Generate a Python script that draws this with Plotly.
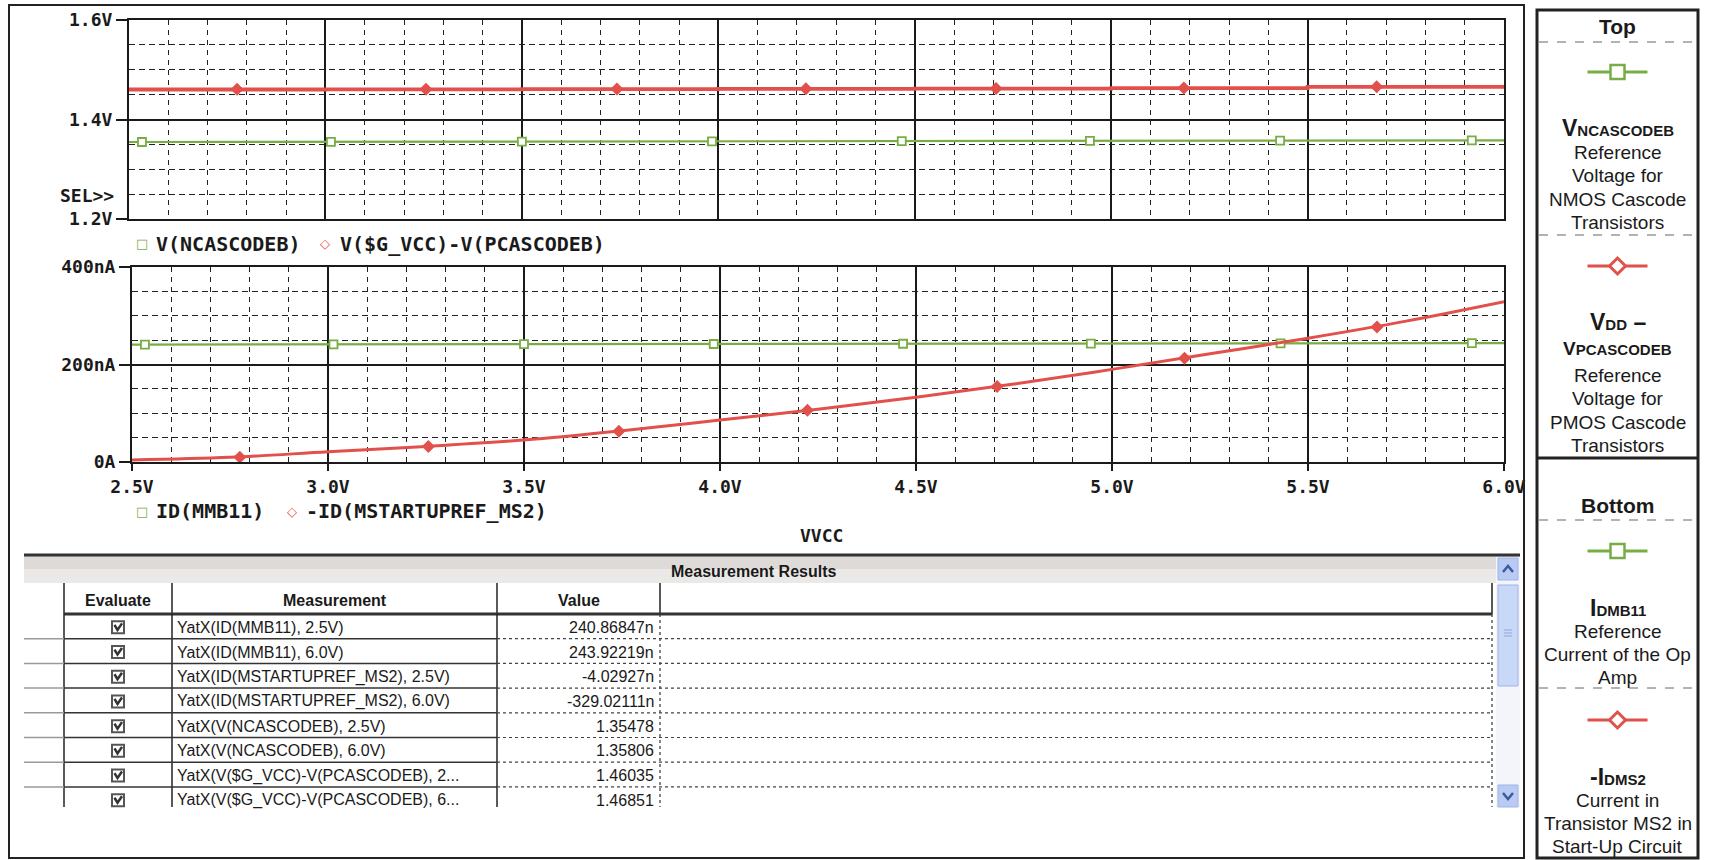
import plotly.graph_objects as go

W, H = 1712, 860

# ---------------- data ----------------
vcc = [2.5, 3.0, 3.5, 4.0, 4.5, 5.0, 5.5, 6.0]
v_ncascodeb = [1.35478, 1.3552, 1.3557, 1.3561, 1.3566, 1.3571, 1.3576, 1.35806]
v_vcc_minus_pcascodeb = [1.46035, 1.4607, 1.4611, 1.4616, 1.4622, 1.4630, 1.4655, 1.46851]
id_mmb11_nA = [240.87, 241.3, 241.7, 242.1, 242.6, 243.0, 243.5, 243.92]

vcc_fine = [2.5, 2.75, 3.0, 3.25, 3.5, 3.75, 4.0, 4.25, 4.5, 4.75, 5.0, 5.25, 5.5, 5.75, 6.0]
neg_id_ms2_nA = [4.03, 9.5, 21, 32, 45, 64, 86, 108, 133, 160, 190, 222, 254, 289, 329.02]

green_marker_vcc = [2.533, 3.014, 3.500, 3.984, 4.467, 4.946, 5.430, 5.918]
red_marker_vcc = [2.775, 3.256, 3.742, 4.223, 4.707, 5.185, 5.676]
v_ncascodeb_marks = [1.3548, 1.3552, 1.3557, 1.3561, 1.3566, 1.3571, 1.3576, 1.3580]
v_pcasc_marks = [1.4606, 1.4610, 1.4614, 1.4619, 1.4624, 1.4635, 1.4660]
id_mmb11_marks = [240.9, 241.3, 241.7, 242.1, 242.6, 243.0, 243.5, 243.9]
neg_id_ms2_marks = [10, 32, 63, 106, 155, 213, 277]

x_ticks = [2.5, 3.0, 3.5, 4.0, 4.5, 5.0, 5.5, 6.0]
x_tick_text = ["2.5V", "3.0V", "3.5V", "4.0V", "4.5V", "5.0V", "5.5V", "6.0V"]
top_y_ticks = [1.2, 1.4, 1.6]
top_y_text = ["1.2V", "1.4V", "1.6V"]
bot_y_ticks = [0, 200, 400]
bot_y_text = ["0A", "200nA", "400nA"]

top_legend = ["V(NCASCODEB)", "V($G_VCC)-V(PCASCODEB)"]
bot_legend = ["ID(MMB11)", "-ID(MSTARTUPREF_MS2)"]
x_title = "VVCC"

table_title = "Measurement Results"
table_headers = ["Evaluate", "Measurement", "Value"]
measurements = [
    "YatX(ID(MMB11), 2.5V)",
    "YatX(ID(MMB11), 6.0V)",
    "YatX(ID(MSTARTUPREF_MS2), 2.5V)",
    "YatX(ID(MSTARTUPREF_MS2), 6.0V)",
    "YatX(V(NCASCODEB), 2.5V)",
    "YatX(V(NCASCODEB), 6.0V)",
    "YatX(V($G_VCC)-V(PCASCODEB), 2...",
    "YatX(V($G_VCC)-V(PCASCODEB), 6...",
]
values = ["240.86847n", "243.92219n", "-4.02927n", "-329.02111n",
          "1.35478", "1.35806", "1.46035", "1.46851"]

panel_top_title = "Top"
panel_bottom_title = "Bottom"
panel_entries = [
    ("<b>V<span style='font-size:15px'>NCASCODEB</span></b>",
     ["Reference", "Voltage for", "NMOS Cascode", "Transistors"]),
    ("<b>V<span style='font-size:15px'>DD</span> –</b>",
     ["<b>V<span style='font-size:15px'>PCASCODEB</span></b>", "Reference", "Voltage for", "PMOS Cascode", "Transistors"]),
    ("<b>I<span style='font-size:15px'>DMB11</span></b>",
     ["Reference", "Current of the Op", "Amp"]),
    ("<b>-I<span style='font-size:15px'>DMS2</span></b>",
     ["Current in", "Transistor MS2 in", "Start-Up Circuit"]),
]

GREEN = "#78ad45"
RED = "#e2504b"
INK = "#1a1a1a"
MONO = "DejaVu Sans Mono"
NARROW = "Liberation Sans Narrow, Arial Narrow, Liberation Sans, Arial"


def px(x):
    return x / W


def py(y):
    return 1 - y / H


fig = go.Figure()

fig.add_trace(go.Scatter(x=vcc, y=v_ncascodeb, mode="lines",
                         line=dict(color=GREEN, width=2.2), xaxis="x", yaxis="y"))
fig.add_trace(go.Scatter(x=green_marker_vcc, y=v_ncascodeb_marks, mode="markers",
                         marker=dict(symbol="square", size=8, color="white",
                                     line=dict(color=GREEN, width=1.8)), xaxis="x", yaxis="y"))
fig.add_trace(go.Scatter(x=vcc, y=v_vcc_minus_pcascodeb, mode="lines", line_shape="hv",
                         line=dict(color=RED, width=3.8), xaxis="x", yaxis="y"))
fig.add_trace(go.Scatter(x=red_marker_vcc, y=v_pcasc_marks, mode="markers",
                         marker=dict(symbol="diamond", size=10, color=RED), xaxis="x", yaxis="y"))

fig.add_trace(go.Scatter(x=vcc, y=id_mmb11_nA, mode="lines",
                         line=dict(color=GREEN, width=2.2), xaxis="x2", yaxis="y2"))
fig.add_trace(go.Scatter(x=green_marker_vcc, y=id_mmb11_marks, mode="markers",
                         marker=dict(symbol="square", size=8, color="white",
                                     line=dict(color=GREEN, width=1.8)), xaxis="x2", yaxis="y2"))
fig.add_trace(go.Scatter(x=vcc_fine, y=neg_id_ms2_nA, mode="lines", line_shape="spline",
                         line=dict(color=RED, width=3), xaxis="x2", yaxis="y2"))
fig.add_trace(go.Scatter(x=red_marker_vcc, y=neg_id_ms2_marks, mode="markers",
                         marker=dict(symbol="diamond", size=10, color=RED), xaxis="x2", yaxis="y2"))

tickfont = dict(family=MONO, size=18, color=INK, weight="bold")


def xaxis_cfg(domain, anchor, labels):
    return dict(domain=domain, anchor=anchor, range=[2.5, 6.0], automargin=False,
                tickvals=x_ticks, ticktext=x_tick_text, showticklabels=labels,
                ticks="outside" if labels else "", ticklen=7, tickwidth=2, tickcolor=INK,
                tickfont=tickfont, showline=True, mirror=True, linecolor=INK, linewidth=2,
                showgrid=True, gridcolor=INK, gridwidth=1.5, zeroline=False, fixedrange=True,
                minor=dict(dtick=0.1, tick0=2.5, showgrid=True, gridcolor="#222",
                           gridwidth=1.2, griddash="5px,5px", ticks=""))


def yaxis_cfg(domain, anchor, rng, tv, tt, mdt):
    return dict(domain=domain, anchor=anchor, range=rng, tickvals=tv, ticktext=tt, automargin=False,
                ticks="outside", ticklen=11, tickwidth=2, tickcolor=INK, tickfont=tickfont,
                showline=True, mirror=True, linecolor=INK, linewidth=2,
                showgrid=True, gridcolor=INK, gridwidth=1.5, zeroline=False, fixedrange=True,
                minor=dict(dtick=mdt, tick0=rng[0], showgrid=True, gridcolor="#222",
                           gridwidth=1.2, griddash="6px,4px", ticks=""))


fig.update_layout(
    width=W, height=H, margin=dict(l=0, r=0, t=0, b=0, pad=0), autosize=False,
    paper_bgcolor="white", plot_bgcolor="white", showlegend=False,
    xaxis=xaxis_cfg([px(129), px(1504)], "y", False),
    yaxis=yaxis_cfg([py(219), py(20)], "x", [1.2, 1.6], top_y_ticks, top_y_text, 0.05),
    xaxis2=xaxis_cfg([px(132), px(1504)], "y2", True),
    yaxis2=yaxis_cfg([py(462), py(267)], "x2", [0, 400], bot_y_ticks, bot_y_text, 50),
)

shapes = []
ann = []


def text(x, y, s, size=14, family=NARROW, color=INK, anchor="left", weight="normal"):
    ann.append(dict(x=px(x), y=py(y), xref="paper", yref="paper", text=s, showarrow=False,
                    xanchor=anchor, yanchor="middle",
                    font=dict(family=family, size=size, color=color, weight=weight)))


def line(x0, y0, x1, y1, color=INK, width=1, dash="solid"):
    shapes.append(dict(type="line", xref="paper", yref="paper", x0=px(x0), y0=py(y0),
                       x1=px(x1), y1=py(y1), line=dict(color=color, width=width, dash=dash)))


def rect(x0, y0, x1, y1, fill=None, color=INK, width=1):
    shapes.append(dict(type="rect", xref="paper", yref="paper", x0=px(x0), y0=py(y0),
                       x1=px(x1), y1=py(y1), fillcolor=fill if fill else "rgba(0,0,0,0)",
                       line=dict(color=color, width=width), layer="above"))


def path(d_pts, closed, color, width, fill=None):
    d = "M " + " L ".join(f"{px(a)},{py(b)}" for a, b in d_pts) + (" Z" if closed else "")
    shapes.append(dict(type="path", xref="paper", yref="paper", path=d,
                       fillcolor=fill if fill else "rgba(0,0,0,0)",
                       line=dict(color=color, width=width)))


LEG = 20
text(116, 196, "SEL>>", size=18, family=MONO, anchor="right", weight="bold")
text(142, 244, "□", size=13, family="DejaVu Sans", color=GREEN, anchor="center")
text(154, 244, top_legend[0], size=LEG, family=MONO, weight="bold")
text(325, 244, "◇", size=13, family="DejaVu Sans", color=RED, anchor="center")
text(338, 244, top_legend[1], size=LEG, family=MONO, weight="bold")
text(142, 511, "□", size=13, family="DejaVu Sans", color=GREEN, anchor="center")
text(154, 511, bot_legend[0], size=LEG, family=MONO, weight="bold")
text(292, 511, "◇", size=13, family="DejaVu Sans", color=RED, anchor="center")
text(304, 511, bot_legend[1], size=LEG, family=MONO, weight="bold")
text(821, 535, x_title, size=18, family=MONO, anchor="center", weight="bold")

rect(9, 5, 1524, 858, color="#222", width=2)

# ---- measurement table ----
T_L, T_R, T_TOP, HB_BOT, H_BOT = 24, 1492, 555, 583, 614
ROW_H = 24.7
T_BOT = 807
col_x = [64, 172, 497, 660]
rect(T_L, T_TOP, 1520, HB_BOT, fill="#dedad7", color="#dedad7", width=0)
rect(T_L, T_TOP + 14, 1520, HB_BOT, fill="#ebe9e7", color="#ebe9e7", width=0)
line(T_L, T_TOP, 1520, T_TOP, color="#333", width=3)
text(753, 571, f"<b>{table_title}</b>", size=16, anchor="center")
for cx in col_x:
    line(cx, HB_BOT, cx, H_BOT, color="#222", width=1.5)
line(T_R, HB_BOT, T_R, H_BOT, color="#222", width=1.5)
line(col_x[0], H_BOT, T_R, H_BOT, color="#333", width=3)
text((col_x[0] + col_x[1]) / 2, 600, f"<b>{table_headers[0]}</b>", size=16, anchor="center")
text((col_x[1] + col_x[2]) / 2, 600, f"<b>{table_headers[1]}</b>", size=16, anchor="center")
text((col_x[2] + col_x[3]) / 2, 600, f"<b>{table_headers[2]}</b>", size=16, anchor="center")
for cx in col_x[:3]:
    line(cx, H_BOT, cx, T_BOT, color="#222", width=1.5)
line(col_x[3], H_BOT, col_x[3], T_BOT, color="#333", width=1.2, dash="dot")
line(T_R, H_BOT, T_R, T_BOT, color="#333", width=1.2, dash="dot")
CB = (col_x[0] + col_x[1]) / 2
for i, (m, v) in enumerate(zip(measurements, values)):
    yb = H_BOT + ROW_H * (i + 1)
    yc = H_BOT + ROW_H * (i + 0.5) + 1
    if i < len(measurements) - 1:
        line(T_L, yb, col_x[0], yb, color="#9a9a9a", width=1.5)
        line(col_x[0], yb, col_x[2], yb, color="#333", width=1.5)
        line(col_x[2], yb, T_R, yb, color="#444", width=1.2, dash="dot")
    rect(CB - 6, yc - 6, CB + 6, yc + 6, color="#555", width=2)
    path([(CB - 3.5, yc - 2.5), (CB - 0.5, yc + 2.5), (CB + 4, yc - 4)], False, "#333", 2.5)
    text(col_x[1] + 3, yc, m, size=16)
    text(col_x[3] - 4, yc, v, size=16, anchor="right")

rect(1496, T_TOP + 2, 1520, T_BOT, fill="#f3f5fa", color="#f3f5fa", width=0)
rect(1498, 558, 1518, 580, fill="#b9cbf3", color="#9db4e6", width=1)
path([(1503, 572), (1508, 566), (1513, 572)], False, "#3b5aa0", 2.5)
rect(1498, 585, 1518, 686, fill="#c9d8f7", color="#9db4e6", width=1)
for gy in (630, 633, 636):
    line(1504, gy, 1512, gy, color="#8ea6d8", width=1)
rect(1498, 785, 1518, 807, fill="#b9cbf3", color="#9db4e6", width=1)
path([(1503, 793), (1508, 799), (1513, 793)], False, "#3b5aa0", 2.5)

# ---- side legend panel ----
P_L, P_R = 1537, 1698
PC = (P_L + P_R) / 2
rect(P_L, 10, P_R, 858, color="#222", width=3)
line(P_L, 458, P_R, 458, color="#222", width=3)
for yy in (42, 235, 520, 688):
    line(P_L + 2, yy, P_R - 2, yy, color="#666", width=1, dash="dash")
text(PC, 27, f"<b>{panel_top_title}</b>", size=21, family="Liberation Sans", anchor="center")
text(PC, 506, f"<b>{panel_bottom_title}</b>", size=21, family="Liberation Sans", anchor="center")


def symbol(y, kind):
    color = GREEN if kind == "square" else RED
    line(PC - 30, y, PC + 30, y, color=color, width=3)
    if kind == "square":
        rect(PC - 7, y - 7, PC + 7, y + 7, fill="white", color=color, width=2.5)
    else:
        path([(PC - 8, y), (PC, y - 8), (PC + 8, y), (PC, y + 8)], True, color, 3, fill="white")


symbol(72, "square")
symbol(266, "diamond")
symbol(551, "square")
symbol(720, "diamond")

entry_y = [[128, 152, 175, 199, 222], [322, 349, 375, 398, 422, 445],
           [608, 631, 654, 677], [777, 800, 823, 846]]
for (head, lines_), ys in zip(panel_entries, entry_y):
    text(PC, ys[0], head, size=23, family=NARROW, anchor="center")
    for s, yy in zip(lines_, ys[1:]):
        text(PC, yy, s, size=19, family=NARROW, anchor="center")

fig.update_layout(shapes=shapes, annotations=ann)

page_fix_js = """
document.body.style.margin = '0';
document.body.style.overflow = 'hidden';
"""
fig.write_html("out.html", post_script=page_fix_js)
